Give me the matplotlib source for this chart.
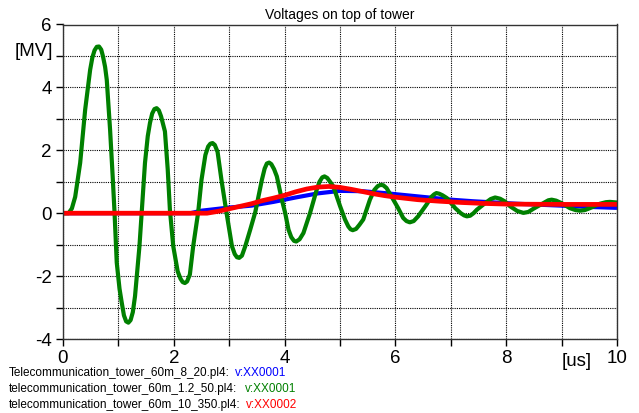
import matplotlib
matplotlib.use("Agg")
import matplotlib.pyplot as plt

plt.rcParams["font.family"] = ["Liberation Sans", "DejaVu Sans"]
plt.rcParams["axes.unicode_minus"] = False

# green: 1.2/50 us surge
t_green = [0.0, 0.10, 0.16, 0.22, 0.31, 0.40, 0.49, 0.53, 0.57, 0.61, 0.65, 0.69, 0.72,
           0.76, 0.79, 0.85, 0.90, 0.93, 0.97, 1.02, 1.06, 1.10, 1.14, 1.18, 1.22, 1.26,
           1.30, 1.38, 1.42, 1.48, 1.53, 1.57, 1.61, 1.65, 1.69, 1.73, 1.77, 1.84, 1.89,
           1.93, 1.99, 2.07, 2.12, 2.16, 2.20, 2.24, 2.29, 2.35, 2.44, 2.50, 2.57, 2.62,
           2.66, 2.70, 2.74, 2.79, 2.86, 2.95, 3.05, 3.10, 3.14, 3.18, 3.23, 3.29, 3.38,
           3.47, 3.59, 3.64, 3.68, 3.72, 3.76, 3.81, 3.86, 3.95, 4.01, 4.07, 4.12, 4.17,
           4.21, 4.27, 4.34, 4.46, 4.58, 4.63, 4.68, 4.72, 4.77, 4.82, 4.88, 5.00, 5.09,
           5.15, 5.19, 5.23, 5.29, 5.35, 5.42, 5.54, 5.62, 5.68, 5.73, 5.78, 5.84, 5.93,
           6.05, 6.14, 6.20, 6.26, 6.33, 6.41, 6.56, 6.65, 6.70, 6.74, 6.79, 6.85, 6.93,
           7.08, 7.18, 7.24, 7.29, 7.35, 7.41, 7.47, 7.62, 7.72, 7.80, 7.89, 7.98, 8.07,
           8.20, 8.31, 8.40, 8.49, 8.67, 8.76, 8.82, 8.90, 9.00, 9.15, 9.25, 9.33, 9.42,
           9.51, 9.69, 9.80, 9.87, 10.0]
v_green = [0.0, 0.0, 0.15, 0.52, 1.6, 3.29, 4.56, 4.95, 5.18, 5.29, 5.3, 5.2, 5.0,
           4.65, 4.24, 2.65, 1.06, 0.03, -1.57, -2.4, -2.84, -3.25, -3.44, -3.48, -3.40, -3.15,
           -2.64, -1.05, 0.03, 1.6, 2.45, 2.87, 3.17, 3.31, 3.34, 3.27, 3.08, 2.6, 1.4,
           0.1, -1.05, -1.85, -2.08, -2.19, -2.22, -2.17, -1.95, -1.05, 0.03, 1.06, 1.85, 2.12,
           2.21, 2.23, 2.17, 1.95, 1.06, 0.03, -1.05, -1.30, -1.40, -1.42, -1.35, -1.05, -0.52,
           0.03, 1.06, 1.42, 1.58, 1.61, 1.56, 1.40, 1.17, 0.43, 0.01, -0.52, -0.76, -0.88,
           -0.9, -0.83, -0.63, 0.01, 0.75, 1.00, 1.14, 1.17, 1.12, 1.0, 0.85, 0.23, -0.2,
           -0.42, -0.51, -0.54, -0.50, -0.37, -0.2, 0.43, 0.74, 0.86, 0.90, 0.89, 0.80, 0.53,
           0.16, -0.15, -0.25, -0.29, -0.25, -0.10, 0.27, 0.52, 0.60, 0.64, 0.62, 0.57, 0.48,
           0.16, 0.0, -0.07, -0.10, -0.08, 0.0, 0.11, 0.32, 0.45, 0.50, 0.46, 0.37, 0.22,
           0.07, 0.01, 0.04, 0.14, 0.32, 0.41, 0.43, 0.40, 0.32, 0.16, 0.10, 0.08, 0.10,
           0.16, 0.30, 0.35, 0.36, 0.34]

# blue: 8/20 us
t_blue = [0.0, 2.3, 2.5, 2.8, 3.0, 3.4, 3.8, 4.2, 4.6, 5.0, 5.4, 5.8, 6.2, 6.6, 7.0,
          7.4, 7.8, 8.2, 8.6, 9.0, 9.5, 10.0]
v_blue = [0.0, 0.0, 0.08, 0.14, 0.18, 0.24, 0.36, 0.50, 0.63, 0.71, 0.70, 0.64, 0.57,
          0.50, 0.43, 0.38, 0.34, 0.30, 0.27, 0.24, 0.20, 0.17]

# red: 10/350 us
t_red = [0.0, 2.6, 2.8, 3.0, 3.2, 3.4, 3.6, 3.8, 4.0, 4.2, 4.4, 4.6, 4.8, 5.0, 5.2,
         5.4, 5.6, 5.8, 6.0, 6.4, 6.8, 7.2, 7.6, 8.0, 9.0, 10.0]
v_red = [0.0, 0.0, 0.06, 0.14, 0.22, 0.30, 0.40, 0.48, 0.57, 0.68, 0.77, 0.83, 0.85,
         0.82, 0.76, 0.69, 0.62, 0.56, 0.51, 0.43, 0.38, 0.34, 0.31, 0.29, 0.28, 0.28]

legend_files = ["Telecommunication_tower_60m_8_20.pl4:",
                "telecommunication_tower_60m_1.2_50.pl4:",
                "telecommunication_tower_60m_10_350.pl4:"]
legend_vars = ["v:XX0001", "v:XX0001", "v:XX0002"]
colors = ["#0000ff", "#008000", "#ff0000"]

fig = plt.figure(figsize=(6.39, 4.13), dpi=100)
ax = fig.add_axes([63 / 639, 74 / 413, 554 / 639, 314.5 / 413])

ax.plot(t_blue, v_blue, color=colors[0], linewidth=3.0, solid_capstyle="butt")
ax.plot(t_green, v_green, color=colors[1], linewidth=3.0)
ax.plot(t_red, v_red, color=colors[2], linewidth=3.4, solid_capstyle="butt")

ax.set_xlim(0, 10)
ax.set_ylim(-4, 6)
ax.set_xticks([0, 2, 4, 6, 8, 10])
ax.set_xticks([1, 3, 5, 7, 9], minor=True)
ax.set_yticks([-4, -2, 0, 2, 4, 6])
ax.set_yticks([-3, -1, 1, 3, 5], minor=True)
ax.set_xticklabels(["0", "2", "4", "6", "8", "10"])
ax.grid(True, which="both", color="black", linestyle=(0, (1, 1)), linewidth=0.8)
ax.tick_params(which="both", direction="out", length=5, width=1, labelsize=13.5, pad=3)
for s in ax.spines.values():
    s.set_color("#333333")
    s.set_linewidth(1.0)

ax.set_title("Voltages on top of tower", fontsize=10, pad=4)
fig.text(34 / 639, 1 - 52 / 413, "[MV]", fontsize=13.5, ha="center", va="center")
fig.text(577 / 639, 1 - 361 / 413, "[us]", fontsize=13.5, ha="center", va="center")

ys = [373, 389, 405]
xs = [235, 245, 246]
for y, f, v, c, xv in zip(ys, legend_files, legend_vars, colors, xs):
    fig.text(9 / 639, 1 - y / 413, f, fontsize=8.5, va="center", ha="left")
    fig.text(xv / 639, 1 - y / 413, v, fontsize=8.5, va="center", ha="left", color=c)

fig.savefig("out.png", dpi=100)
